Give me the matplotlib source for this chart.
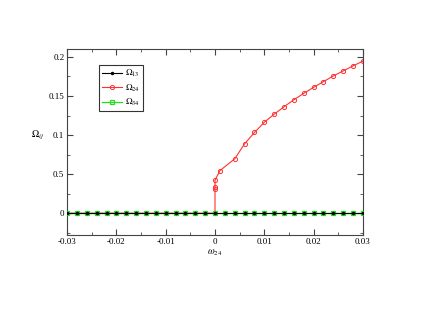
import matplotlib
matplotlib.use("Agg")
import matplotlib.pyplot as plt
import numpy as np

plt.rcParams['font.family'] = ['Liberation Serif', 'DejaVu Serif']
plt.rcParams['mathtext.fontset'] = 'stix'

# omega_24 grid, step 0.002
w = [-0.030, -0.028, -0.026, -0.024, -0.022, -0.020, -0.018, -0.016, -0.014, -0.012,
     -0.010, -0.008, -0.006, -0.004, -0.002, 0.000, 0.002, 0.004, 0.006, 0.008,
     0.010, 0.012, 0.014, 0.016, 0.018, 0.020, 0.022, 0.024, 0.026, 0.028, 0.030]
om13 = [0.0] * len(w)
om34 = [0.0] * len(w)

# Omega_24 jumps at zero
w24 = [-0.030, -0.028, -0.026, -0.024, -0.022, -0.020, -0.018, -0.016, -0.014, -0.012,
       -0.010, -0.008, -0.006, -0.004, -0.002, 0.000, 0.000, 0.000, 0.000, 0.001,
       0.004, 0.006, 0.008, 0.010, 0.012, 0.014, 0.016, 0.018, 0.020, 0.022,
       0.024, 0.026, 0.028, 0.030]
om24 = [0.0, 0.0, 0.0, 0.0, 0.0, 0.0, 0.0, 0.0, 0.0, 0.0,
        0.0, 0.0, 0.0, 0.0, 0.0, 0.0, 0.031, 0.033, 0.042, 0.0545,
        0.0696, 0.0888, 0.1033, 0.1164, 0.1267, 0.1362, 0.1452, 0.1534, 0.1611, 0.1684,
        0.1757, 0.1821, 0.1886, 0.1946]

fig = plt.figure(figsize=(4.3, 3.32), dpi=100)
ax = fig.add_axes([0.156, 0.292, 0.688, 0.560])

ax.plot(w, om13, color='black', lw=0.8, marker='o', ms=1.5, label=r'$\Omega_{13}$', zorder=5)
ax.plot(w24, om24, color='#ff3030', lw=0.8, marker='o', ms=3.0, mfc='none', mew=0.7,
        label=r'$\Omega_{24}$', zorder=2)
ax.plot(w, om34, color='#22dd22', lw=0.9, marker='s', ms=2.8, mfc='none', mew=0.9,
        label=r'$\Omega_{34}$', zorder=4)

ax.set_xlim(-0.03, 0.03)
ax.set_ylim(-0.028, 0.21)
ax.set_xticks([-0.03, -0.02, -0.01, 0, 0.01, 0.02, 0.03])
ax.set_xticklabels(['-0.03', '-0.02', '-0.01', '0', '0.01', '0.02', '0.03'])
ax.set_xticks(np.arange(-0.025, 0.03, 0.01), minor=True)
ax.set_yticks([0, 0.05, 0.1, 0.15, 0.2])
ax.set_yticklabels(['0', '0.5', '0.1', '0.15', '0.2'])
ax.set_yticks([-0.025, 0.025, 0.075, 0.125, 0.175], minor=True)
ax.tick_params(which='both', direction='in', top=True, right=True, labelsize=6.5,
               color='#444444', pad=2)
ax.tick_params(which='major', length=4)
ax.tick_params(which='minor', length=2)
for s in ax.spines.values():
    s.set_color('#444444')
    s.set_linewidth(0.8)

ax.set_xlabel(r'$\omega_{24}$', fontsize=7, labelpad=1)
ax.set_ylabel(r'$\Omega_{ij}$', fontsize=7, rotation=0, labelpad=8)

leg = ax.legend(loc='upper left', bbox_to_anchor=(0.108, 0.915), fontsize=6.5,
                frameon=True, fancybox=False, edgecolor='black', handlelength=2.2,
                borderpad=0.35, labelspacing=0.35, handletextpad=0.3, borderaxespad=0)
leg.get_frame().set_linewidth(0.8)

fig.savefig('out.png', dpi=100)
